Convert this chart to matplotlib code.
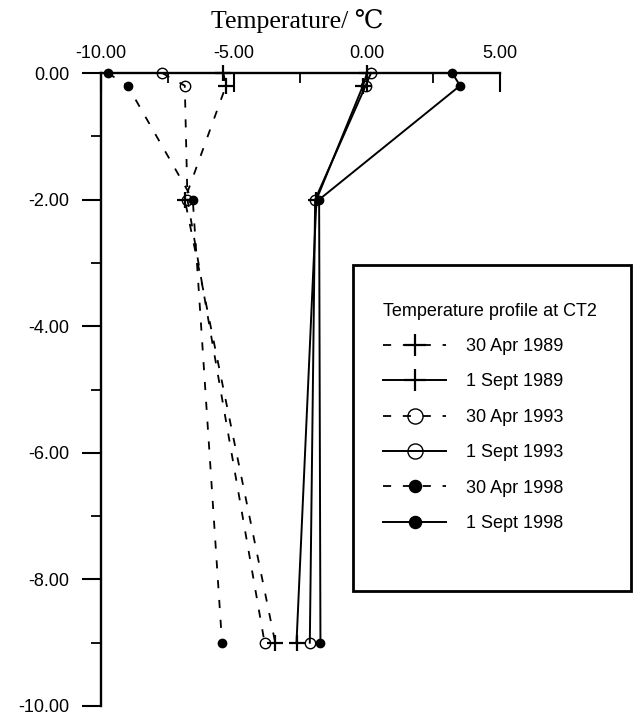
import matplotlib.pyplot as plt
from matplotlib.ticker import MultipleLocator, FormatStrFormatter
from matplotlib.patches import Rectangle

# depths of the thermistors (m)
depth = [0.0, -0.2, -2.0, -9.0]

# temperatures (deg C)
apr_1989 = [-5.4, -5.3, -6.85, -3.45]
sep_1989 = [0.0, -0.15, -1.9, -2.65]
apr_1993 = [-7.7, -6.85, -6.75, -3.85]
sep_1993 = [0.15, -0.05, -1.95, -2.15]
apr_1998 = [-9.75, -9.0, -6.55, -5.45]
sep_1998 = [3.2, 3.5, -1.8, -1.75]

labels = ['30 Apr 1989', '1 Sept 1989', '30 Apr 1993',
          '1 Sept 1993', '30 Apr 1998', '1 Sept 1998']
series = [apr_1989, sep_1989, apr_1993, sep_1993, apr_1998, sep_1998]

plt.rcParams['font.family'] = ['Liberation Sans', 'DejaVu Sans']

fig = plt.figure(figsize=(6.35, 7.15), dpi=100)
ax = fig.add_axes([101/635, 1 - 706/715, 399/635, 633/715])

dash = (0, (4.5, 6.5))
styles = [
    dict(ls=dash, lw=1.3, marker='+', ms=11, mew=1.6, mfc='none'),
    dict(ls='-', lw=1.4, marker='+', ms=11, mew=1.6, mfc='none'),
    dict(ls=dash, lw=1.3, marker='o', ms=7.5, mew=1.0, mfc='none'),
    dict(ls='-', lw=1.4, marker='o', ms=7.5, mew=1.0, mfc='none'),
    dict(ls=dash, lw=1.3, marker='o', ms=6, mew=1.0, mfc='black'),
    dict(ls='-', lw=1.4, marker='o', ms=6, mew=1.0, mfc='black'),
]

for vals, lab, st in zip(series, labels, styles):
    ax.plot(vals, depth, color='black', label=lab, clip_on=False, **st)

ax.set_xlim(-10, 5)
ax.set_ylim(-10, 0)

ax.spines['right'].set_visible(False)
ax.spines['bottom'].set_visible(False)
ax.spines['top'].set_linewidth(1.7)
ax.spines['left'].set_linewidth(1.7)

ax.xaxis.set_ticks_position('top')
ax.xaxis.set_major_locator(MultipleLocator(5))
ax.xaxis.set_minor_locator(MultipleLocator(2.5))
ax.xaxis.set_major_formatter(FormatStrFormatter('%.2f'))
ax.yaxis.set_major_locator(MultipleLocator(2))
ax.yaxis.set_minor_locator(MultipleLocator(1))
ax.yaxis.set_major_formatter(FormatStrFormatter('%.2f'))

ax.tick_params(axis='x', which='major', direction='in', length=14, width=1.5,
               pad=8, labelsize=13)
ax.tick_params(axis='x', which='minor', direction='in', length=7, width=1.3)
ax.tick_params(axis='y', which='major', direction='out', length=14, width=1.5,
               pad=9, labelsize=13)
ax.tick_params(axis='y', which='minor', direction='out', length=7, width=1.3)

fig.text(297/635, 1 - 21/715, 'Temperature/ \u2103', ha='center', va='center',
         fontsize=18.5, family=['Liberation Serif', 'DejaVu Serif'])

# legend box drawn separately so it can reach past the axis end
fig.patches.append(Rectangle((353/635, 1 - 591/715), 278/635, 326/715,
                             transform=fig.transFigure, fill=False,
                             lw=2.0, ec='black'))

leg = ax.legend(title='Temperature profile at CT2', loc='upper left',
                bbox_to_anchor=(374/635, 1 - 294/715), bbox_transform=fig.transFigure,
                fontsize=13, title_fontsize=13, frameon=False, borderpad=0,
                labelspacing=1.02, handlelength=3.5, handletextpad=1.1,
                markerscale=1.45, alignment='left')
leg._legend_box.sep = 13

fig.savefig('out.png', dpi=100)
